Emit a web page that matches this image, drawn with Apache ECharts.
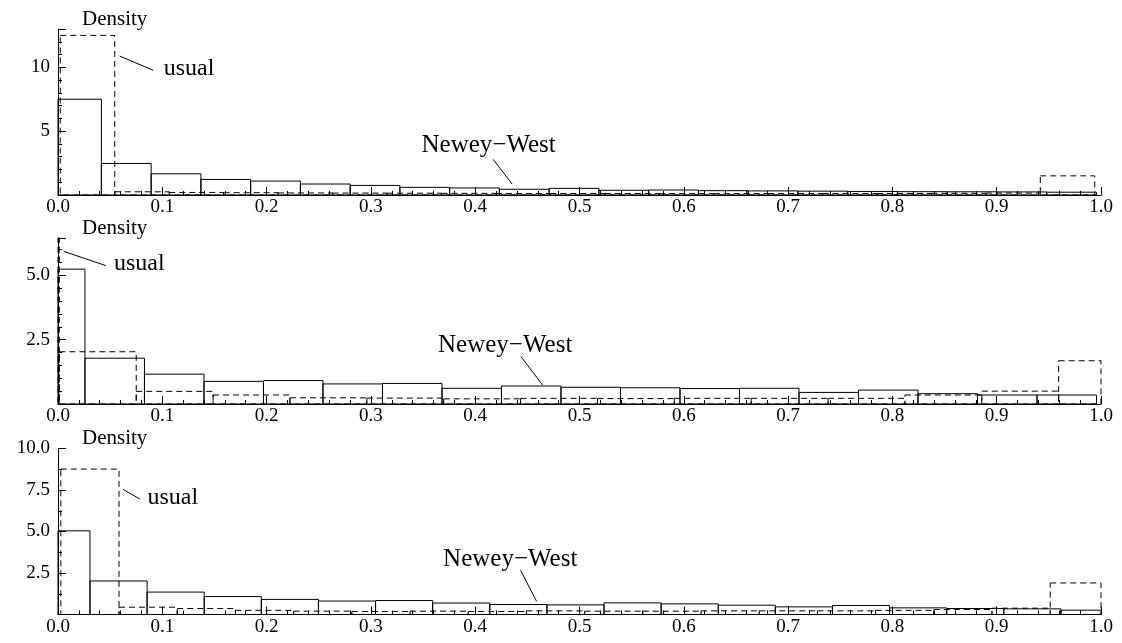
<!DOCTYPE html>
<html>
<head>
<meta charset="utf-8">
<script src="https://cdn.jsdelivr.net/npm/echarts@6/dist/echarts.min.js"></script>
<style>
html,body{margin:0;padding:0;background:#fff;}
#c{width:1122px;height:643px;}
</style>
</head>
<body>
<div id="c"></div>
<script>
// ---------- data ----------
const xTickLabels = ['0.0','0.1','0.2','0.3','0.4','0.5','0.6','0.7','0.8','0.9','1.0'];
const yTickLabels1 = ['5','10'];
const yTickLabels2 = ['2.5','5.0'];
const yTickLabels3 = ['2.5','5.0','7.5','10.0'];
const yMax = [13, 6.45, 10];

// Newey-West (solid) histograms: first bin left edge, bin width, densities
const nwBin1 = [-0.0061, 0.0477];
const nw1 = [7.5, 2.47, 1.66, 1.22, 1.09, 0.86, 0.75, 0.6, 0.55, 0.45, 0.52, 0.37, 0.39, 0.34, 0.32, 0.3, 0.28, 0.26, 0.25, 0.24, 0.22];
const nwBin2 = [-0.0312, 0.05705];
const nw2 = [5.24, 1.78, 1.16, 0.88, 0.91, 0.78, 0.8, 0.61, 0.7, 0.65, 0.63, 0.6, 0.61, 0.45, 0.54, 0.4, 0.35, 0.35];
const nwBin3 = [-0.0241, 0.05476];
const nw3 = [5.04, 2.02, 1.35, 1.08, 0.91, 0.81, 0.84, 0.69, 0.6, 0.58, 0.7, 0.64, 0.56, 0.46, 0.54, 0.4, 0.36, 0.34, 0.26];

// usual (dashed) histograms
const usualBin1 = [0.0022, 0.0522];
const usual1 = [12.5, 0.25, 0.2, 0.18, 0.16, 0.15, 0.14, 0.13, 0.12, 0.12, 0.12, 0.11, 0.11, 0.11, 0.12, 0.12, 0.13, 0.15, 1.5];
const usualBin2 = [-0.0724, 0.0737];
const usual2 = [6.45, 2.03, 0.49, 0.35, 0.24, 0.23, 0.2, 0.22, 0.21, 0.22, 0.22, 0.22, 0.35, 0.5, 1.68];
const usualBin3 = [0.0027, 0.0558];
const usual3 = [8.76, 0.44, 0.36, 0.25, 0.2, 0.18, 0.2, 0.18, 0.22, 0.2, 0.2, 0.22, 0.22, 0.22, 0.25, 0.3, 0.38, 1.9];

// annotation anchors (data coordinates)
const labelText = ['usual', 'Newey\u2212West'];
const usualAnchor = [[0.1014, 9.92], [0.0537, 5.45], [0.0857, 7.02]];
const usualLine = [[[0.0592, 10.88], [0.0911, 9.77]], [[0.0055, 5.93], [0.0457, 5.38]], [[0.0623, 7.54], [0.0784, 6.96]]];
const nwAnchor = [[0.3485, 3.9], [0.3644, 2.26], [0.3692, 3.33]];
const nwLine = [[[0.4172, 2.79], [0.4354, 0.86]], [[0.4437, 1.85], [0.4646, 0.74]], [[0.4435, 2.66], [0.4588, 0.8]]];

// ---------- build ----------
const FONT = 'Liberation Serif';
function bins(spec, heights) {
  const out = [];
  heights.forEach((h, i) => {
    let a = spec[0] + i * spec[1], b = a + spec[1];
    a = Math.max(0, a); b = Math.min(1, b);
    if (b > a) out.push([a, b, h]);
  });
  return out;
}
const panels = [
  {nw: bins(nwBin1, nw1), us: bins(usualBin1, usual1), labels: yTickLabels1, minor: 5},
  {nw: bins(nwBin2, nw2), us: bins(usualBin2, usual2), labels: yTickLabels2, minor: 5},
  {nw: bins(nwBin3, nw3), us: bins(usualBin3, usual3), labels: yTickLabels3, minor: 2}
];
const tops = [29, 238, 448.5];

function histSeries(idx, data, dashed) {
  return {
    type: 'custom', xAxisIndex: idx, yAxisIndex: idx,
    data: data, encode: {x: [0, 1], y: 2},
    silent: true,
    renderItem: function (params, api) {
      const p0 = api.coord([api.value(0), api.value(2)]);
      const p1 = api.coord([api.value(1), 0]);
      return {
        type: 'rect',
        shape: {x: p0[0], y: p0[1], width: p1[0] - p0[0], height: p1[1] - p0[1]},
        style: {fill: 'none', stroke: '#000', lineWidth: 1, lineDash: dashed ? [6, 4] : null}
      };
    }
  };
}

const option = {
  animation: false,
  backgroundColor: '#fff',
  grid: tops.map(t => ({left: 58, right: 21, top: t, height: 166})),
  xAxis: panels.map((p, i) => ({
    type: 'value', gridIndex: i, min: 0, max: 1, interval: 0.1,
    axisLine: {show: true, lineStyle: {color: '#000', width: 1}},
    axisTick: {show: true, inside: true, length: 8, lineStyle: {color: '#000'}},
    minorTick: {show: true, splitNumber: 5, length: 4, lineStyle: {color: '#000'}},
    splitLine: {show: false},
    axisLabel: {
      color: '#000', fontFamily: FONT, fontSize: 19, margin: 3,
      formatter: v => xTickLabels[Math.round(v * 10)] || ''
    }
  })),
  yAxis: panels.map((p, i) => ({
    type: 'value', gridIndex: i, min: 0, max: yMax[i], interval: 2.5 * (i === 0 ? 2 : 1),
    name: 'Density', nameLocation: 'end', nameGap: 10,
    nameTextStyle: {color: '#000', fontFamily: FONT, fontSize: 21, align: 'left', verticalAlign: 'middle', padding: [0, 0, 0, 24]},
    axisLine: {show: true, lineStyle: {color: '#000', width: 1}},
    axisTick: {show: true, inside: true, length: 8, lineStyle: {color: '#000'}},
    minorTick: {show: true, splitNumber: p.minor, length: 4, lineStyle: {color: '#000'}},
    splitLine: {show: false},
    axisLabel: {
      color: '#000', fontFamily: FONT, fontSize: 19, margin: 8,
      showMinLabel: false, showMaxLabel: i === 2,
      formatter: function (v) {
        const s = (i === 0) ? String(Math.round(v)) : v.toFixed(1);
        return p.labels.indexOf(s) >= 0 ? s : '';
      }
    }
  })),
  series: [].concat(...panels.map((p, i) => [histSeries(i, p.us, true), histSeries(i, p.nw, false)]))
};

const chart = echarts.init(document.getElementById('c'), null, {renderer: 'canvas'});
chart.setOption(option);

// annotations placed via the axes' own scales
const g = [];
for (let i = 0; i < 3; i++) {
  const f = pt => chart.convertToPixel({xAxisIndex: i, yAxisIndex: i}, pt);
  const addLine = seg => {
    const a = f(seg[0]), b = f(seg[1]);
    g.push({type: 'line', shape: {x1: a[0], y1: a[1], x2: b[0], y2: b[1]}, style: {stroke: '#000', lineWidth: 1}, silent: true});
  };
  const addText = (pt, txt, size) => {
    const a = f(pt);
    g.push({type: 'text', x: a[0], y: a[1], style: {text: txt, fill: '#000', font: size + 'px "' + FONT + '"', textAlign: 'left', textVerticalAlign: 'middle'}, silent: true});
  };
  addLine(usualLine[i]); addText(usualAnchor[i], labelText[0], 24);
  addLine(nwLine[i]); addText(nwAnchor[i], labelText[1], 25);
}
chart.setOption({graphic: g});
</script>
</body>
</html>
